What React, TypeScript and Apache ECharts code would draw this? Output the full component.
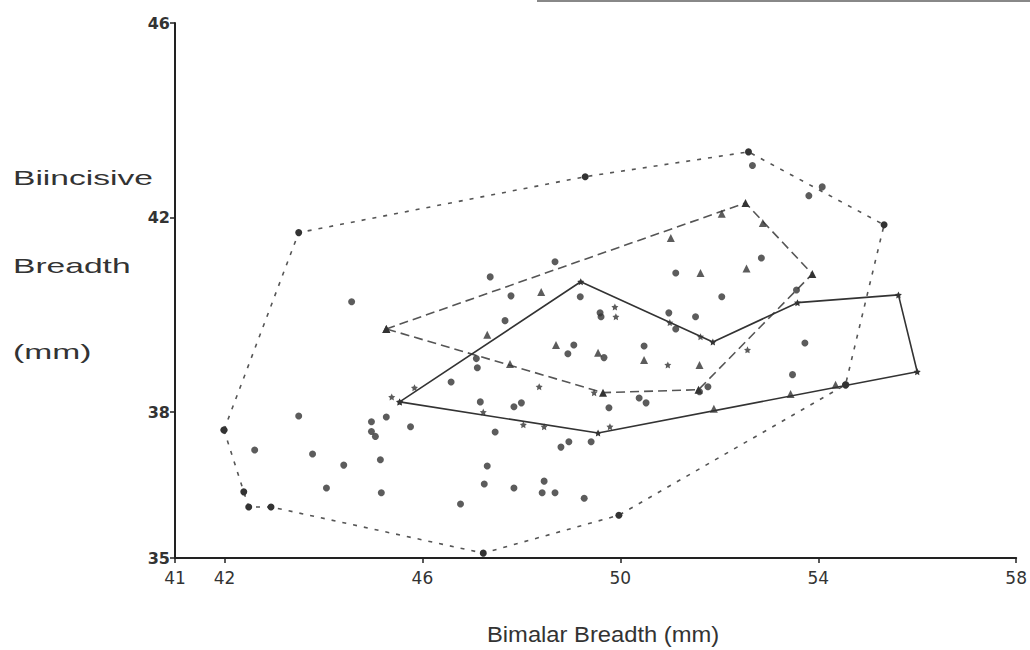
import React, { useEffect, useRef } from "react";
import * as echarts from "echarts";

// X tick labels and Y tick labels
const xTicks = [41, 42, 46, 50, 54, 58];
const yTicks = [35, 38, 42, 46];

// Group 1: circles (outer dotted hull)
const circlePoints: number[][] = [
  [44.57, 40.27], [43.5, 37.92], [42.61, 37.22], [43.78, 37.14], [44.41, 36.91],
  [44.06, 36.44], [45.15, 37.02], [45.17, 36.34], [44.97, 37.8], [45.27, 37.9],
  [44.97, 37.6], [45.05, 37.5], [45.76, 37.7], [46.58, 38.62], [46.77, 36.11],
  [47.17, 38.21], [47.11, 38.91], [47.09, 39.1], [47.37, 40.78], [47.47, 37.59],
  [47.31, 36.89], [47.25, 36.52], [47.67, 39.88], [47.79, 40.39], [47.85, 38.11],
  [48.0, 38.19], [47.85, 36.44], [48.46, 36.58], [48.42, 36.34], [48.68, 36.34],
  [48.68, 41.09], [48.8, 37.28], [48.96, 37.39], [48.94, 39.2], [49.06, 39.38],
  [49.19, 40.37], [49.27, 36.23], [49.41, 37.39], [49.59, 40.04], [49.61, 39.96],
  [49.67, 39.12], [49.77, 38.09], [50.38, 38.29], [50.52, 38.19], [50.48, 39.36],
  [50.98, 40.04], [51.12, 39.71], [51.12, 40.86], [51.52, 39.96], [52.05, 40.37],
  [52.85, 41.17], [51.77, 38.52], [51.6, 38.42], [52.67, 43.07], [54.08, 42.63],
  [53.81, 42.45], [53.56, 40.51], [53.73, 39.42], [53.48, 38.77], [54.56, 38.56],
];
const circleHull: number[][] = [
  [41.99, 37.63], [42.39, 36.36], [42.49, 36.05], [42.94, 36.05], [47.23, 35.1],
  [49.97, 35.88], [54.55, 38.56], [55.33, 41.85], [52.59, 43.35], [49.29, 42.84],
  [43.5, 41.69],
];

// Group 2: triangles (dashed hull)
const trianglePoints: number[][] = [
  [48.4, 40.47], [47.31, 39.59], [48.7, 39.38], [47.77, 38.99], [49.55, 39.22],
  [50.48, 39.07], [51.6, 38.97], [51.62, 40.86], [52.55, 40.95], [51.02, 41.58],
  [52.05, 42.08], [52.88, 41.89], [54.35, 38.56], [53.44, 38.37], [51.89, 38.07],
];
const triangleHull: number[][] = [
  [45.27, 39.71], [52.53, 42.3], [53.88, 40.84], [51.58, 38.46], [49.65, 38.4],
];

// Group 3: stars (solid hull)
const starPoints: number[][] = [
  [49.89, 40.16], [49.91, 39.96], [50.96, 38.97], [48.36, 38.52], [52.57, 39.28],
  [45.84, 38.5], [45.38, 38.31], [47.23, 38.0], [48.04, 37.74], [48.46, 37.7],
  [49.79, 37.7], [51.0, 39.84], [51.62, 39.55], [49.47, 38.4],
];
const starHull: number[][] = [
  [45.54, 38.21], [49.2, 40.68], [51.87, 39.44], [53.58, 40.25], [55.62, 40.41],
  [56.0, 38.83], [49.55, 37.57],
];

const yTitleLines = ["Biincisive", "Breadth", "(mm)"];
const xTitle = "Bimalar Breadth (mm)";

const STAR =
  "path://M0,-10 L2.9,-4 9.5,-3.1 4.8,1.5 5.9,8.1 0,5 -5.9,8.1 -4.8,1.5 -9.5,-3.1 -2.9,-4Z";

const closed = (pts: number[][]) => [...pts, pts[0]];
const FONT = "'Liberation Sans', Arial, sans-serif";
const NUMFONT = "'DejaVu Sans', sans-serif";

export default function App() {
  const ref = useRef<HTMLDivElement>(null);
  useEffect(() => {
    if (!ref.current) return;
    const chart = echarts.init(ref.current, undefined, { renderer: "svg" });
    const ink = "#333";
    const yTitleY = [178, 266, 352];
    chart.setOption({
      animation: false,
      backgroundColor: "#fff",
      grid: { left: 175, right: 12, top: 23, bottom: 92, containLabel: false },
      xAxis: {
        type: "value",
        min: 41,
        max: 58,
        interval: 1,
        axisLine: { onZero: false, lineStyle: { color: "#222", width: 2 } },
        axisTick: { show: true, customValues: xTicks, length: 5, lineStyle: { color: "#222", width: 1.5 } },
        axisLabel: {
          customValues: xTicks,
          color: ink,
          fontSize: 17,
          fontFamily: NUMFONT,
          margin: 11,
        },
        splitLine: { show: false },
      },
      yAxis: {
        type: "value",
        min: 35,
        max: 46,
        interval: 1,
        axisLine: { onZero: false, lineStyle: { color: "#222", width: 2 } },
        axisTick: { show: true, customValues: yTicks, length: 5, lineStyle: { color: "#222", width: 1.5 } },
        axisLabel: {
          customValues: yTicks,
          color: ink,
          fontSize: 16,
          fontWeight: "bold",
          fontFamily: NUMFONT,
          margin: 5,
        },
        splitLine: { show: false },
      },
      series: [
        {
          type: "line",
          data: closed(circleHull),
          symbol: "circle",
          symbolSize: 7,
          itemStyle: { color: ink },
          lineStyle: { color: "#555", width: 1.6, type: [4, 7] },
          z: 2,
        },
        {
          type: "line",
          data: closed(triangleHull),
          symbol: "triangle",
          symbolSize: 8,
          itemStyle: { color: ink },
          lineStyle: { color: "#555", width: 1.6, type: [9, 5] },
          z: 2,
        },
        {
          type: "line",
          data: closed(starHull),
          symbol: STAR,
          symbolSize: 7,
          itemStyle: { color: ink },
          lineStyle: { color: "#333", width: 1.6, type: "solid" },
          z: 2,
        },
        {
          type: "scatter",
          data: circlePoints,
          symbol: "circle",
          symbolSize: 7,
          itemStyle: { color: ink },
          z: 3,
        },
        {
          type: "scatter",
          data: trianglePoints,
          symbol: "triangle",
          symbolSize: 8,
          itemStyle: { color: ink },
          z: 3,
        },
        {
          type: "scatter",
          data: starPoints,
          symbol: STAR,
          symbolSize: 7,
          itemStyle: { color: ink },
          z: 3,
        },
      ],
      graphic: [
        ...yTitleLines.map((t, i) => ({
          type: "text",
          x: 13,
          y: yTitleY[i],
          scaleX: 1.6,
          style: {
            text: t,
            fontSize: 21,
            fontFamily: FONT,
            fill: ink,
            verticalAlign: "middle",
          },
        })),
        {
          type: "text",
          x: 487,
          y: 634,
          scaleX: 1.08,
          style: { text: xTitle, fontSize: 22, fontFamily: FONT, fill: ink, verticalAlign: "middle" },
        },
        {
          type: "line",
          shape: { x1: 537, y1: 1, x2: 1030, y2: 1 },
          style: { stroke: "#888", lineWidth: 2 },
        },
      ],
    });
    return () => chart.dispose();
  }, []);
  return (
    <div
      ref={ref}
      style={{ position: "fixed", left: 0, top: 0, width: 1030, height: 650 }}
    />
  );
}
